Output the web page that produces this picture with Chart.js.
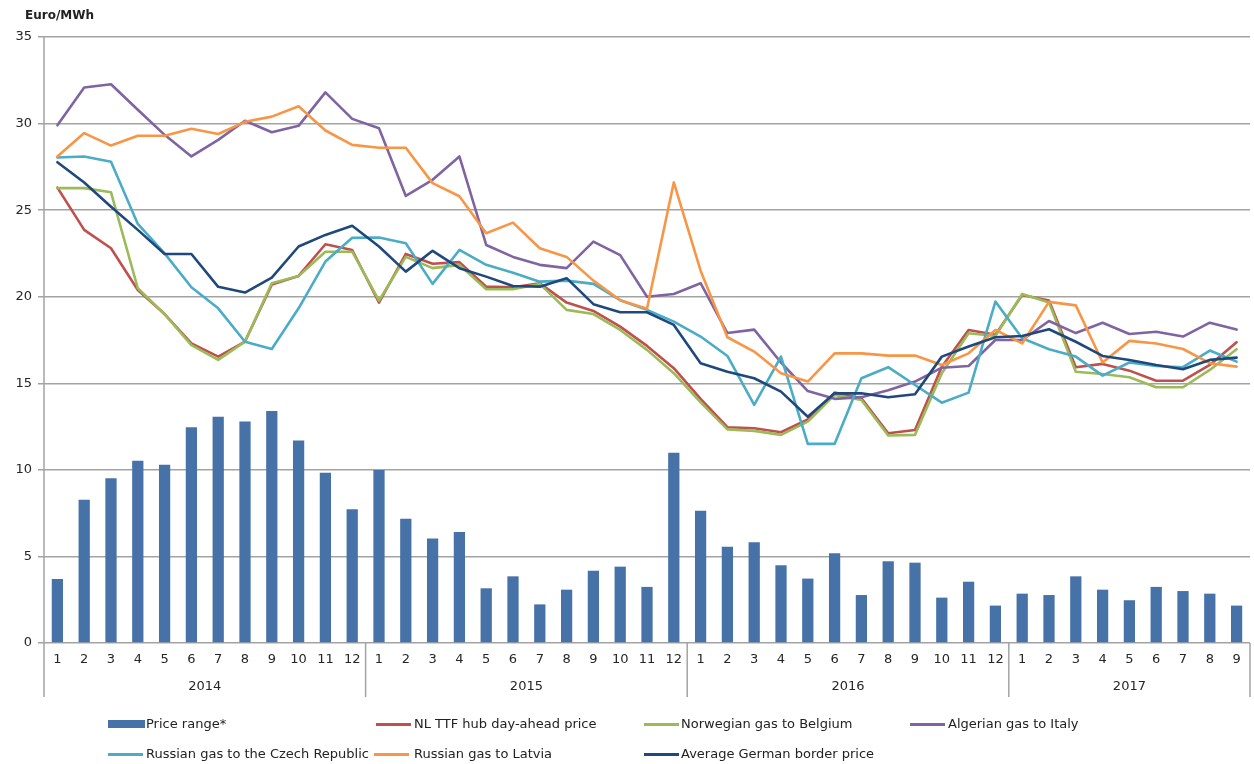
<!DOCTYPE html>
<html>
<head>
<meta charset="utf-8">
<script src="https://cdn.jsdelivr.net/npm/chart.js@4"></script>
<style>
html,body{margin:0;padding:0;background:#fff;}
#wrap{position:relative;width:1254px;height:764px;overflow:hidden;}
#c{position:absolute;left:0;top:0;}
.unit{position:absolute;left:25px;top:8px;font:bold 12px "DejaVu Sans",sans-serif;color:#222;}
.lg{position:absolute;font:13px "DejaVu Sans",sans-serif;color:#222;white-space:nowrap;line-height:16px;}
.sw{position:absolute;}
</style>
</head>
<body>
<div id="wrap">
<canvas id="c" width="1254" height="764"></canvas>
<div class="unit">Euro/MWh</div>
<div id="legend"></div>
</div>
<script>
// ---- data ----
const years = ["2014", "2015", "2016", "2017"];
const monthsPerYear = [12, 12, 12, 9];
const monthLabels = [
  "1","2","3","4","5","6","7","8","9","10","11","12",
  "1","2","3","4","5","6","7","8","9","10","11","12",
  "1","2","3","4","5","6","7","8","9","10","11","12",
  "1","2","3","4","5","6","7","8","9"
];
const yTicks = [0, 5, 10, 15, 20, 25, 30, 35];

const priceRange = [
  3.70, 8.28, 9.51, 10.53, 10.30, 12.46, 13.07, 12.79, 13.40, 11.69, 9.84, 7.72,
  9.99, 7.18, 6.03, 6.41, 3.16, 3.85, 2.23, 3.08, 4.18, 4.41, 3.24, 10.99,
  7.64, 5.56, 5.82, 4.49, 3.72, 5.18, 2.77, 4.72, 4.64, 2.62, 3.54, 2.16,
  2.85, 2.77, 3.85, 3.08, 2.47, 3.24, 3.00, 2.85, 2.16
];
const nlTtf = [
  26.30, 23.86, 22.80, 20.39, 19.00, 17.31, 16.54, 17.41, 20.70, 21.20, 23.03, 22.70,
  19.66, 22.47, 21.90, 22.00, 20.58, 20.55, 20.78, 19.66, 19.18, 18.27, 17.16, 15.87,
  14.10, 12.46, 12.40, 12.17, 12.92, 14.46, 14.14, 12.11, 12.30, 15.96, 18.08, 17.80,
  20.10, 19.78, 15.93, 16.12, 15.73, 15.15, 15.15, 16.06, 17.37
];
const norwegianBelgium = [
  26.27, 26.27, 26.03, 20.49, 18.99, 17.20, 16.35, 17.41, 20.78, 21.20, 22.60, 22.60,
  19.78, 22.30, 21.65, 21.84, 20.43, 20.43, 20.74, 19.24, 19.00, 18.08, 16.93, 15.58,
  13.90, 12.34, 12.25, 12.02, 12.79, 14.33, 14.04, 11.98, 12.02, 15.58, 17.89, 17.73,
  20.16, 19.66, 15.67, 15.54, 15.35, 14.77, 14.77, 15.77, 16.97
];
const algerianItaly = [
  29.90, 32.08, 32.27, 30.80, 29.35, 28.10, 29.06, 30.16, 29.50, 29.87, 31.80, 30.27,
  29.73, 25.82, 26.75, 28.10, 22.99, 22.30, 21.84, 21.65, 23.18, 22.40, 20.00, 20.16,
  20.78, 17.90, 18.10, 16.20, 14.55, 14.10, 14.20, 14.60, 15.10, 15.90, 16.00, 17.50,
  17.50, 18.60, 17.90, 18.50, 17.85, 17.98, 17.70, 18.50, 18.10
];
const russianCzech = [
  28.04, 28.10, 27.80, 24.20, 22.50, 20.55, 19.33, 17.40, 16.98, 19.33, 22.03, 23.40,
  23.42, 23.09, 20.74, 22.70, 21.84, 21.39, 20.87, 20.93, 20.74, 19.80, 19.24, 18.56,
  17.70, 16.58, 13.75, 16.54, 11.50, 11.50, 15.29, 15.93, 14.90, 13.88, 14.46, 19.72,
  17.60, 16.97, 16.54, 15.44, 16.20, 16.00, 15.93, 16.89, 16.25
];
const russianLatvia = [
  28.10, 29.45, 28.73, 29.30, 29.30, 29.70, 29.40, 30.10, 30.40, 31.00, 29.60, 28.77,
  28.60, 28.60, 26.56, 25.80, 23.67, 24.28, 22.80, 22.30, 20.93, 19.80, 19.30, 26.60,
  21.50, 17.66, 16.83, 15.58, 15.10, 16.73, 16.73, 16.60, 16.60, 16.06, 16.73, 18.08,
  17.30, 19.70, 19.50, 16.20, 17.45, 17.30, 16.98, 16.16, 15.96
];
const germanBorder = [
  27.77, 26.60, 25.20, 23.86, 22.47, 22.47, 20.57, 20.24, 21.10, 22.90, 23.57, 24.10,
  22.90, 21.45, 22.65, 21.65, 21.16, 20.62, 20.58, 21.07, 19.57, 19.10, 19.10, 18.37,
  16.16, 15.67, 15.29, 14.52, 13.07, 14.42, 14.42, 14.19, 14.37, 16.54, 17.12, 17.66,
  17.73, 18.12, 17.40, 16.58, 16.35, 16.06, 15.81, 16.35, 16.48
];
const seriesNames = [
  "Price range*", "NL TTF hub day-ahead price", "Norwegian gas to Belgium",
  "Algerian gas to Italy", "Russian gas to the Czech Republic",
  "Russian gas to Latvia", "Average German border price"
];

// ---- styles ----
const colors = ["#4672A8", "#C0504D", "#9BBB59", "#8064A2", "#4BACC6", "#F79646", "#1F497D"];
const axisColor = "#a3a3a3";
const textColor = "#262626";
const FONT = '"DejaVu Sans", sans-serif';

function lineDs(label, data, color, order) {
  return {
    type: "line", label, data, borderColor: color, backgroundColor: color,
    borderWidth: 2.6, pointRadius: 0, pointHoverRadius: 0, tension: 0,
    fill: false, borderJoinStyle: "round", borderCapStyle: "round", order
  };
}

const yearPlugin = {
  id: "yearAxis",
  afterDraw(chart) {
    const { ctx, chartArea: a, scales: { x } } = chart;
    const bottom = a.bottom + 54;
    ctx.save();
    ctx.strokeStyle = axisColor;
    ctx.lineWidth = 1.5;
    const vline = (px, y0, y1) => { ctx.beginPath(); ctx.moveTo(px, y0); ctx.lineTo(px, y1); ctx.stroke(); };
    vline(a.left, a.top, bottom);
    ctx.fillStyle = textColor;
    ctx.font = "13px " + FONT;
    ctx.textAlign = "center";
    ctx.textBaseline = "middle";
    let start = 0;
    years.forEach((yr, i) => {
      const n = monthsPerYear[i];
      const end = start + n - 1;
      const xl = start === 0 ? a.left : (x.getPixelForValue(start - 1) + x.getPixelForValue(start)) / 2;
      const xr = i === years.length - 1 ? a.right : (x.getPixelForValue(end) + x.getPixelForValue(end + 1)) / 2;
      vline(xr, a.bottom, bottom);
      ctx.fillText(yr, (xl + xr) / 2, a.bottom + 44);
      start += n;
    });
    ctx.restore();
  }
};

const datasets = [
  {
    type: "bar", label: seriesNames[0], data: priceRange,
    backgroundColor: colors[0], borderWidth: 0,
    barPercentage: 0.42, categoryPercentage: 1.0, order: 10
  },
  lineDs(seriesNames[1], nlTtf, colors[1], 6),
  lineDs(seriesNames[2], norwegianBelgium, colors[2], 5),
  lineDs(seriesNames[3], algerianItaly, colors[3], 4),
  lineDs(seriesNames[4], russianCzech, colors[4], 3),
  lineDs(seriesNames[5], russianLatvia, colors[5], 2),
  lineDs(seriesNames[6], germanBorder, colors[6], 1)
];

new Chart(document.getElementById("c"), {
  type: "bar",
  data: { labels: monthLabels, datasets },
  options: {
    responsive: false,
    animation: false,
    devicePixelRatio: 1,
    layout: { padding: { top: 37, left: 0, right: 4, bottom: 0 } },
    plugins: { legend: { display: false }, tooltip: { enabled: false }, title: { display: false } },
    scales: {
      x: {
        type: "category",
        offset: true,
        grid: { display: false, drawTicks: false },
        border: { display: false },
        ticks: {
          color: textColor, font: { family: FONT, size: 13 },
          padding: 9, maxRotation: 0, minRotation: 0, autoSkip: false
        },
        afterFit(scale) { scale.height = 121; }
      },
      y: {
        min: yTicks[0], max: yTicks[yTicks.length - 1],
        afterBuildTicks(scale) { scale.ticks = yTicks.map(v => ({ value: v })); },
        grid: { color: axisColor, lineWidth: 1.5, tickLength: 6, drawTicks: true },
        border: { display: false },
        ticks: { color: textColor, font: { family: FONT, size: 13 }, padding: 6 },
        afterFit(scale) { scale.width = 44; }
      }
    }
  },
  plugins: [yearPlugin]
});

// ---- HTML legend ----
const legendSlots = [
  { sx: 108, tx: 146, y: 724 }, { sx: 376, tx: 414, y: 724 },
  { sx: 644, tx: 681, y: 724 }, { sx: 910, tx: 948, y: 724 },
  { sx: 108, tx: 146, y: 754 }, { sx: 374, tx: 414, y: 754 },
  { sx: 644, tx: 681, y: 754 }
];
const lg = document.getElementById("legend");
seriesNames.forEach((name, i) => {
  const s = legendSlots[i];
  const sw = document.createElement("div");
  sw.className = "sw";
  if (i === 0) {
    sw.style.cssText = `left:${s.sx}px;top:${s.y - 4}px;width:37px;height:8px;background:${colors[i]}`;
  } else {
    sw.style.cssText = `left:${s.sx}px;top:${s.y - 1.5}px;width:35px;height:3px;background:${colors[i]}`;
  }
  lg.appendChild(sw);
  const t = document.createElement("div");
  t.className = "lg";
  t.style.left = s.tx + "px";
  t.style.top = (s.y - 8) + "px";
  t.textContent = name;
  lg.appendChild(t);
});
</script>
</body>
</html>
